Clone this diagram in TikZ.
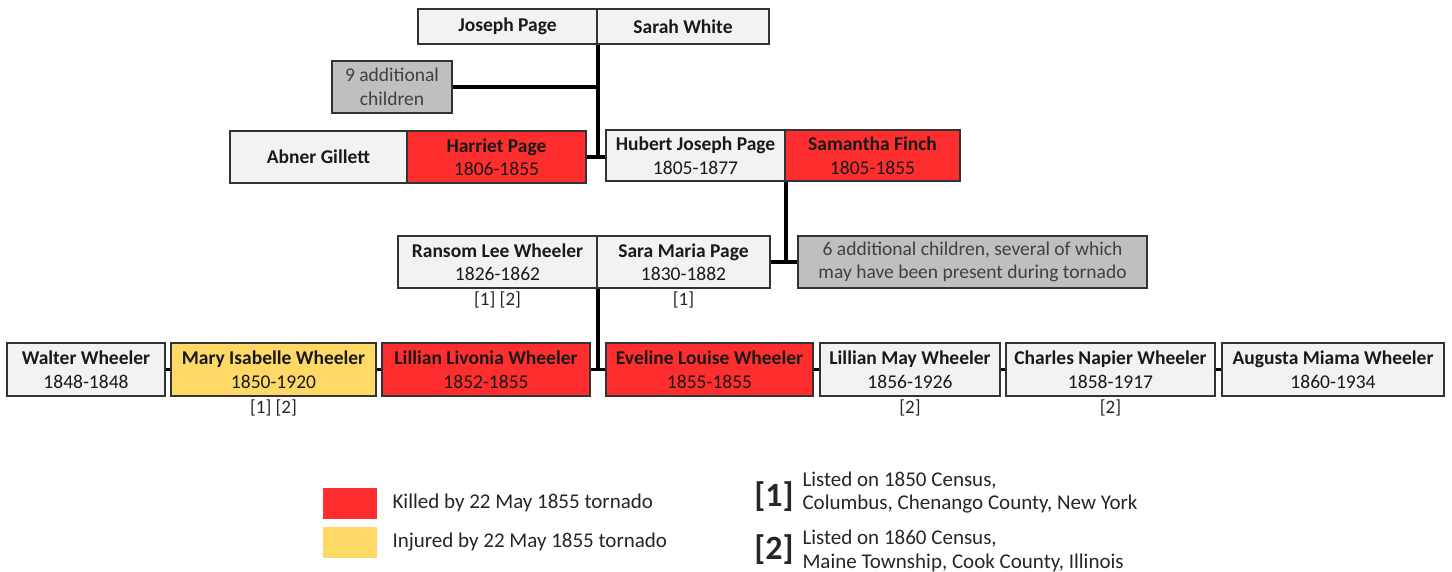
\documentclass[tikz,border=0pt]{standalone}
\usepackage{fontspec}
\setmainfont{Carlito}
\definecolor{kred}{HTML}{FF2E2E}
\definecolor{kyel}{HTML}{FFD966}
\definecolor{lgray}{HTML}{F2F2F2}
\definecolor{dgray}{HTML}{BFBFBF}
\definecolor{edge}{HTML}{333333}
\begin{document}
\begin{tikzpicture}[x=1pt,y=-1pt,
  box/.style={draw=edge, line width=1.4pt, inner sep=0pt, align=center, fill=lgray,
    font=\fontsize{19.5}{23.5}\selectfont, text=black!90},
  kbox/.style={box, fill=kred},
  ibox/.style={box, fill=kyel},
  gbox/.style={box, fill=dgray, text=black!75},
  fn/.style={font=\fontsize{19}{20}\selectfont, text=black!85},
  link/.style={line width=3.8pt, black},
  sib/.style={line width=2.5pt, black},
  lgtext/.style={anchor=west, font=\fontsize{21}{23.5}\selectfont, text=black!85, align=left},
  bignum/.style={font=\bfseries\fontsize{34}{34}\selectfont, text=black!85}]
\useasboundingbox (0,0) rectangle (1452,571);
\fill[white] (0,0) rectangle (1452,571);

% row 1
\node[box, minimum width=179, minimum height=35] (jp) at (507.5,26.5) {\textbf{Joseph Page}};
\node[box, minimum width=172, minimum height=35] (sw) at (683,26.5) {\textbf{Sarah White}};
\node[gbox, minimum width=120, minimum height=52] (nine) at (392,87) {9 additional\\children};

% row 2
\node[box, minimum width=177, minimum height=52] (ag) at (318.5,157) {\textbf{Abner Gillett}};
\node[kbox, minimum width=179, minimum height=52] (hp) at (496.5,157) {\textbf{Harriet Page}\\1806-1855};
\node[box, minimum width=179, minimum height=51] (hjp) at (695.5,155.5) {\textbf{Hubert Joseph Page}\\1805-1877};
\node[kbox, minimum width=175, minimum height=51] (sf) at (872.5,155.5) {\textbf{Samantha Finch}\\1805-1855};

% row 2b
\node[box, minimum width=199, minimum height=52] (rlw) at (497.5,262) {\textbf{Ransom Lee Wheeler}\\1826-1862};
\node[box, minimum width=173, minimum height=52] (smp) at (683.5,262) {\textbf{Sara Maria Page}\\1830-1882};
\node[gbox, minimum width=349, minimum height=52] (six) at (972.5,262) {6 additional children, several of which\\may have been present during tornado};
\node[fn] (frlw) at (497.5,300) {[1] [2]};
\node[fn] (fsmp) at (683.5,300) {[1]};

% row 3
\node[box, minimum width=158, minimum height=53] (ww) at (86,369.5) {\textbf{Walter Wheeler}\\1848-1848};
\node[ibox, minimum width=205, minimum height=53] (miw) at (273.5,369.5) {\textbf{Mary Isabelle Wheeler}\\1850-1920};
\node[kbox, minimum width=208, minimum height=53] (llw) at (486,369.5) {\textbf{Lillian Livonia Wheeler}\\1852-1855};
\node[kbox, minimum width=207, minimum height=53] (elw) at (709.5,369.5) {\textbf{Eveline Louise Wheeler}\\1855-1855};
\node[box, minimum width=180, minimum height=53] (lmw) at (910,369.5) {\textbf{Lillian May Wheeler}\\1856-1926};
\node[box, minimum width=209, minimum height=53] (cnw) at (1110.5,369.5) {\textbf{Charles Napier Wheeler}\\1858-1917};
\node[box, minimum width=222, minimum height=53] (amw) at (1333,369.5) {\textbf{Augusta Miama Wheeler}\\1860-1934};
\node[fn] (fmiw) at (273.5,408) {[1] [2]};
\node[fn] (flmw) at (910,408) {[2]};
\node[fn] (fcnw) at (1110.5,408) {[2]};

% connectors
\draw[link] (jp.south east) -- (jp.south east |- hp.east);
\draw[link] (nine.east) -- (jp.south east |- nine.east);
\draw[link] (hp.east) -- (hjp.west |- hp.east);
\draw[link] (hjp.south east) -- (hjp.south east |- six.west);
\draw[link] (smp.east) -- (six.west);
\draw[link] (rlw.south east) -- (rlw.south east |- llw.east);
\draw[link] (llw.east) -- (elw.west);
\draw[sib] (ww.east) -- (miw.west);
\draw[sib] (miw.east) -- (llw.west);
\draw[sib] (elw.east) -- (lmw.west);
\draw[sib] (lmw.east) -- (cnw.west);
\draw[sib] (cnw.east) -- (amw.west);

% legend
\node[fill=kred, minimum width=54, minimum height=31, inner sep=0pt] (lk) at (350,503.5) {};
\node[fill=kyel, minimum width=54, minimum height=31, inner sep=0pt] (li) at (350,542.5) {};
\node[lgtext] (lkt) at (389,503) {Killed by 22 May 1855 tornado};
\node[lgtext] (lit) at (389,542) {Injured by 22 May 1855 tornado};
\node[bignum] (n1) at (774,497) {[1]};
\node[lgtext] (n1t) at (799,492.5) {Listed on 1850 Census,\\Columbus, Chenango County, New York};
\node[bignum] (n2) at (774,550) {[2]};
\node[lgtext] (n2t) at (799,551) {Listed on 1860 Census,\\Maine Township, Cook County, Illinois};
\end{tikzpicture}
\end{document}
